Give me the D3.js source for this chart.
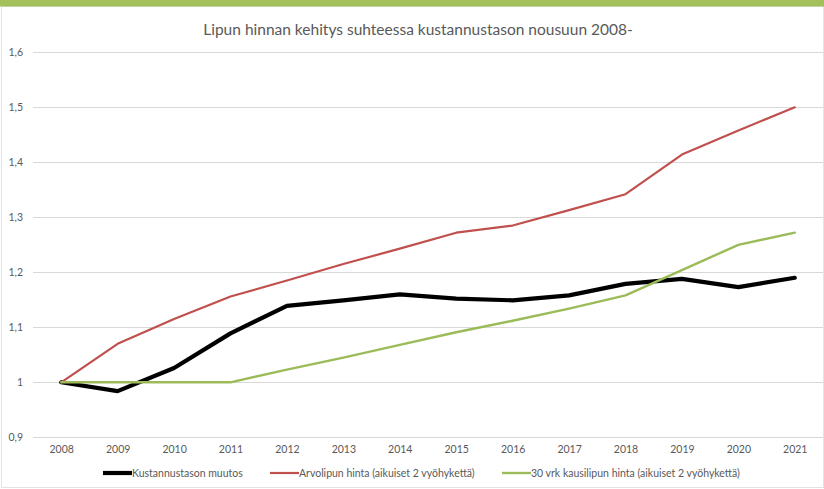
<!DOCTYPE html>
<html>
<head>
<meta charset="utf-8">
<script src="https://cdn.jsdelivr.net/npm/d3@7"></script>
<style>
  html, body { margin: 0; padding: 0; background: #fff; }
  svg { display: block; font-family: Lato, "Open Sans", sans-serif; }
</style>
</head>
<body>
<svg id="chart" width="824" height="489"></svg>
<script>
// Years on the category axis
const years = ["2008","2009","2010","2011","2012","2013","2014","2015","2016","2017","2018","2019","2020","2021"];

// Index series (2008 = 1)
const kustannustaso = [1.000, 0.984, 1.026, 1.089, 1.139, 1.149, 1.160, 1.152, 1.149, 1.158, 1.179, 1.188, 1.173, 1.190];
const arvolippu     = [1.000, 1.070, 1.115, 1.156, 1.185, 1.215, 1.243, 1.272, 1.285, 1.313, 1.342, 1.414, 1.458, 1.500];
const kausilippu    = [1.000, 1.000, 1.000, 1.000, 1.023, 1.045, 1.068, 1.091, 1.112, 1.134, 1.158, 1.204, 1.250, 1.272];

const seriesNames = [
  "Kustannustason muutos",
  "Arvolipun hinta (aikuiset 2 vyöhykettä)",
  "30 vrk kausilipun hinta (aikuiset 2 vyöhykettä)"
];

const yTicks = [0.9, 1.0, 1.1, 1.2, 1.3, 1.4, 1.5, 1.6];
const titleText = "Lipun hinnan kehitys suhteessa kustannustason nousuun 2008-";

const series = [
  { name: seriesNames[0], values: kustannustaso, color: "#000000", width: 4.2 },
  { name: seriesNames[1], values: arvolippu,     color: "#C0504D", width: 2.2 },
  { name: seriesNames[2], values: kausilippu,    color: "#9BBB59", width: 2.4 }
];

const svg = d3.select("#chart");
const W = 824, H = 489;

// Frame and accent bar
svg.append("rect").attr("x", 1.5).attr("y", 6.5).attr("width", W - 2).attr("height", H - 8)
  .attr("fill", "#fff").attr("stroke", "#e3e3e3").attr("stroke-width", 1);
svg.append("rect").attr("x", 0).attr("y", 0).attr("width", W).attr("height", 6.5)
  .attr("fill", "#A2C15B");

// Scales
const x = d3.scalePoint().domain(years).range([33, 823]).padding(0.5);
const y = d3.scaleLinear().domain([0.9, 1.6]).range([437.3, 52.3]);

const fiLocale = d3.formatLocale({ decimal: ",", thousands: " ", grouping: [3], currency: ["", " €"] });
const fmt = v => Math.abs(v - 1) < 1e-9 ? "1" : fiLocale.format(".1f")(v);

// Title
svg.append("text")
  .attr("x", 418).attr("y", 35)
  .attr("text-anchor", "middle")
  .attr("fill", "#595959")
  .attr("font-size", 15.5)
  .text(titleText);

// Horizontal gridlines
svg.append("g").selectAll("line").data(yTicks).join("line")
  .attr("x1", 33).attr("x2", 823)
  .attr("y1", d => Math.round(y(d)) + 0.5).attr("y2", d => Math.round(y(d)) + 0.5)
  .attr("stroke", "#d9d9d9").attr("stroke-width", 1);

// Y axis labels
const yAxis = d3.axisLeft(y).tickValues(yTicks).tickFormat(fmt).tickSize(0).tickPadding(0);
const gy = svg.append("g").attr("transform", "translate(23,0)").call(yAxis);
gy.select(".domain").remove();
gy.selectAll("text").attr("fill", "#595959").attr("font-size", 10.5).attr("font-family", "Lato, 'Open Sans', sans-serif");

// X axis labels
const xAxis = d3.axisBottom(x).tickSize(0).tickPadding(0);
const gx = svg.append("g").attr("transform", "translate(0,446)").call(xAxis);
gx.select(".domain").remove();
gx.selectAll("text").attr("fill", "#595959").attr("font-size", 10.5).attr("font-family", "Lato, 'Open Sans', sans-serif");

// Lines
const line = d3.line().x((d, i) => x(years[i])).y(d => y(d));
svg.append("g").selectAll("path").data(series).join("path")
  .attr("d", d => line(d.values))
  .attr("fill", "none")
  .attr("stroke", d => d.color)
  .attr("stroke-width", d => d.width)
  .attr("stroke-linejoin", "round")
  .attr("stroke-linecap", "round");

// Legend
const legendX = [103, 270, 502];
const lg = svg.append("g").attr("transform", "translate(0,473)");
const items = lg.selectAll("g").data(series).join("g")
  .attr("transform", (d, i) => `translate(${legendX[i]},0)`);
items.append("line")
  .attr("x1", 0).attr("x2", 29).attr("y1", 0).attr("y2", 0)
  .attr("stroke", d => d.color).attr("stroke-width", d => d.width);
items.append("text")
  .attr("x", 29).attr("y", 3.8)
  .attr("fill", "#595959").attr("font-size", 10.5)
  .text(d => d.name);
</script>
</body>
</html>
